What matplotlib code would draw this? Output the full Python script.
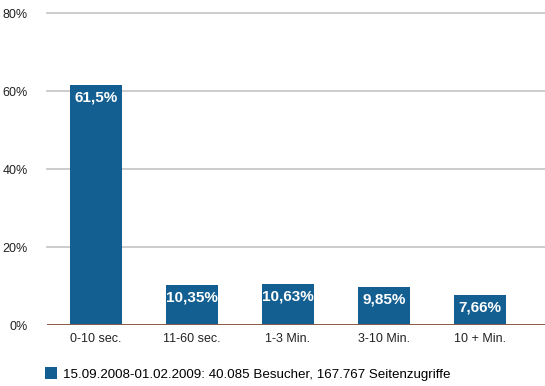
import matplotlib.pyplot as plt

# Verweildauer der Besucher (Anteil in Prozent)
categories = ["0-10 sec.", "11-60 sec.", "1-3 Min.", "3-10 Min.", "10 + Min."]
values = [61.5, 10.35, 10.63, 9.85, 7.66]
value_labels = ["61,5%", "10,35%", "10,63%", "9,85%", "7,66%"]
y_ticks = [0, 20, 40, 60, 80]
series_name = "15.09.2008-01.02.2009: 40.085 Besucher, 167.767 Seitenzugriffe"

bar_color = "#135f91"
grid_color = "#c4c4c4"
base_color = "#8a5a4a"

plt.rcParams["font.family"] = ["Liberation Sans", "DejaVu Sans"]

fig = plt.figure(figsize=(5.45, 3.86), dpi=100)
ax = fig.add_axes([47 / 545, 61 / 386, 1 - 47 / 545, 312 / 386])

x = list(range(len(categories)))
bars = ax.bar(x, values, width=0.54, color=bar_color, zorder=3,
              label=series_name)

# Prozentwerte in weißer Schrift oben im Balken
for bar, text in zip(bars, value_labels):
    ax.annotate(text, (bar.get_x() + bar.get_width() / 2, bar.get_height()),
                xytext=(0, -9), textcoords="offset points",
                ha="center", va="center", color="white",
                fontsize=11, fontweight="bold", zorder=4)

ax.set_xlim(-0.51, 4.68)
ax.set_ylim(0, 80)
ax.set_yticks(y_ticks)
ax.set_yticklabels([f"{t}%" for t in y_ticks])
ax.set_xticks(x)
ax.set_xticklabels(categories)

# Gitterlinien und braune Grundlinie
for t in y_ticks[1:]:
    ax.axhline(t, color=grid_color, linewidth=1.2, zorder=1, clip_on=False)
ax.axhline(0, color=base_color, linewidth=1.4, zorder=5)

for spine in ax.spines.values():
    spine.set_visible(False)
ax.tick_params(axis="both", length=0, labelsize=9, colors="#222222")
ax.tick_params(axis="y", pad=14)
ax.tick_params(axis="x", pad=6)

fig.legend(handles=[bars], labels=[series_name], loc="center left",
           bbox_to_anchor=(38 / 545, 1 - 374 / 386), frameon=False,
           fontsize=9.6, handlelength=0.9, handleheight=0.9,
           handletextpad=0.5, borderpad=0)

fig.savefig("out.png", dpi=100, facecolor="white")
